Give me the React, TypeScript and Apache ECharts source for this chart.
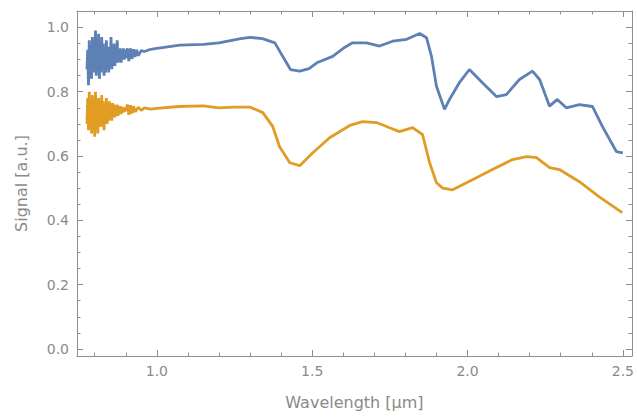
import React, { useEffect, useRef } from "react";
import * as echarts from "echarts";

// ---- data ----
const blueWavelength = [
  0.775, 0.7775, 0.78, 0.7825, 0.785, 0.7875, 0.79, 0.7925, 0.795, 0.7975, 0.8, 0.8025, 0.805, 0.8075,
  0.81, 0.8125, 0.815, 0.8175, 0.82, 0.8225, 0.825, 0.8275, 0.83, 0.8325, 0.835, 0.8375, 0.84, 0.8425,
  0.845, 0.8475, 0.85, 0.8525, 0.855, 0.8575, 0.86, 0.8625, 0.865, 0.8675, 0.87, 0.8725, 0.875, 0.8775,
  0.88, 0.8825, 0.885, 0.8875, 0.89, 0.8925, 0.895, 0.8975, 0.9, 0.905, 0.91, 0.915, 0.92, 0.925, 0.93,
  0.935, 0.94, 0.95, 0.96, 0.98, 1.0, 1.074, 1.15, 1.2, 1.27, 1.3, 1.34, 1.38, 1.405, 1.43, 1.46, 1.49,
  1.515, 1.566, 1.6, 1.63, 1.675, 1.717, 1.759, 1.804, 1.846, 1.868, 1.884, 1.9, 1.926, 1.942, 1.975,
  2.006, 2.048, 2.093, 2.125, 2.167, 2.209, 2.232, 2.264, 2.289, 2.318, 2.36, 2.402, 2.434, 2.479, 2.5,
];
const blueSignal = [
  0.87, 0.93, 0.82, 0.96, 0.85, 0.91, 0.84, 0.97, 0.88, 0.94, 0.86, 0.99, 0.85, 0.95,
  0.87, 0.98, 0.84, 0.93, 0.86, 0.97, 0.87, 0.95, 0.85, 0.92, 0.86, 0.96, 0.87, 0.94,
  0.86, 0.93, 0.88, 0.97, 0.87, 0.93, 0.88, 0.95, 0.88, 0.93, 0.89, 0.96, 0.89, 0.93,
  0.895, 0.935, 0.89, 0.93, 0.9, 0.935, 0.9, 0.93, 0.905, 0.935, 0.895, 0.935, 0.902, 0.932, 0.908,
  0.93, 0.912, 0.928, 0.925, 0.932, 0.935, 0.945, 0.947, 0.952, 0.965, 0.969, 0.965, 0.952, 0.91, 0.869,
  0.864, 0.872, 0.89, 0.91, 0.935, 0.952, 0.952, 0.942, 0.957, 0.963, 0.981, 0.968, 0.91, 0.817, 0.745,
  0.776, 0.83, 0.869, 0.828, 0.785, 0.791, 0.838, 0.864, 0.838, 0.755, 0.776, 0.75, 0.76, 0.754, 0.692,
  0.614, 0.61,
];

const orangeWavelength = [
  0.775, 0.7775, 0.78, 0.7825, 0.785, 0.7875, 0.79, 0.7925, 0.795, 0.7975, 0.8, 0.8025, 0.805, 0.8075,
  0.81, 0.8125, 0.815, 0.8175, 0.82, 0.8225, 0.825, 0.8275, 0.83, 0.8325, 0.835, 0.8375, 0.84, 0.8425,
  0.845, 0.8475, 0.85, 0.8525, 0.855, 0.8575, 0.86, 0.8625, 0.865, 0.8675, 0.87, 0.8725, 0.875, 0.8775,
  0.88, 0.8825, 0.885, 0.8875, 0.89, 0.8925, 0.895, 0.8975, 0.9, 0.905, 0.91, 0.915, 0.92, 0.925, 0.93,
  0.94, 0.95, 0.96, 0.98, 1.0, 1.07, 1.15, 1.2, 1.25, 1.3, 1.341, 1.373, 1.395, 1.428, 1.46, 1.502,
  1.556, 1.621, 1.662, 1.707, 1.749, 1.781, 1.823, 1.855, 1.878, 1.9, 1.92, 1.952, 2.016, 2.08, 2.145,
  2.19, 2.222, 2.264, 2.296, 2.36, 2.424, 2.498,
];
const orangeSignal = [
  0.7, 0.78, 0.68, 0.8, 0.69, 0.75, 0.67, 0.79, 0.71, 0.77, 0.66, 0.8, 0.69, 0.76,
  0.67, 0.78, 0.7, 0.77, 0.69, 0.79, 0.7, 0.77, 0.68, 0.76, 0.71, 0.78, 0.7, 0.76,
  0.71, 0.77, 0.72, 0.76, 0.71, 0.765, 0.72, 0.76, 0.72, 0.755, 0.725, 0.76, 0.725, 0.755,
  0.73, 0.755, 0.73, 0.752, 0.735, 0.752, 0.737, 0.75, 0.74, 0.76, 0.728, 0.758, 0.732, 0.755, 0.737,
  0.752, 0.742, 0.75, 0.746, 0.748, 0.754, 0.756, 0.75, 0.752, 0.752, 0.735, 0.692, 0.629, 0.579, 0.57, 0.61,
  0.657, 0.695, 0.707, 0.704, 0.688, 0.676, 0.688, 0.667, 0.579, 0.517, 0.5, 0.495, 0.526, 0.558, 0.589,
  0.598, 0.595, 0.564, 0.558, 0.52, 0.473, 0.424,
];

const xMajorTicks = [1.0, 1.5, 2.0, 2.5];
const xMinorTicks = [0.8, 0.9, 1.1, 1.2, 1.3, 1.4, 1.6, 1.7, 1.8, 1.9, 2.1, 2.2, 2.3, 2.4];
const yMajorTicks = [0.0, 0.2, 0.4, 0.6, 0.8, 1.0];
const yMinorTicks = [0.05, 0.1, 0.15, 0.25, 0.3, 0.35, 0.45, 0.5, 0.55, 0.65, 0.7, 0.75, 0.85, 0.9, 0.95];

const X_MIN = 0.743;
const X_MAX = 2.529;
const Y_MIN = -0.022;
const Y_MAX = 1.051;

const FRAME = "#8f8f8f";
const LABEL = "#8a8a8a";
const FONT = "DejaVu Sans";

function pairs(xs: number[], ys: number[]) {
  return xs.map((x, i) => [x, ys[i]]);
}

function makeAxis(
  kind: "x" | "y",
  position: string,
  ticks: number[],
  tickLen: number,
  showLine: boolean,
  showLabel: boolean,
  extra: any = {}
) {
  return {
    type: "value",
    position,
    min: kind === "x" ? X_MIN : Y_MIN,
    max: kind === "x" ? X_MAX : Y_MAX,
    axisLine: { show: showLine, onZero: false, lineStyle: { color: FRAME, width: 1 } },
    axisTick: {
      show: true,
      inside: true,
      length: tickLen,
      customValues: ticks,
      lineStyle: { color: FRAME, width: 1 },
    },
    axisLabel: showLabel
      ? {
          show: true,
          customValues: ticks,
          formatter: (v: number) => v.toFixed(1),
          color: LABEL,
          fontFamily: FONT,
          fontSize: 14,
          margin: 8,
        }
      : { show: false },
    splitLine: { show: false },
    ...extra,
  };
}

export default function App() {
  const ref = useRef<HTMLDivElement>(null);

  useEffect(() => {
    if (!ref.current) return;
    const chart = echarts.init(ref.current, null, { renderer: "svg" });
    chart.setOption({
      animation: false,
      backgroundColor: "#ffffff",
      grid: { left: 77, right: 5, top: 11, bottom: 62, containLabel: false },
      xAxis: [
        makeAxis("x", "bottom", xMajorTicks, 6, true, true, {
          name: "Wavelength [μm]",
          nameLocation: "middle",
          nameGap: 38,
          nameTextStyle: { color: LABEL, fontFamily: FONT, fontSize: 16 },
        }),
        makeAxis("x", "bottom", xMinorTicks, 3.5, false, false),
        makeAxis("x", "top", xMajorTicks, 6, true, false),
        makeAxis("x", "top", xMinorTicks, 3.5, false, false),
      ],
      yAxis: [
        makeAxis("y", "left", yMajorTicks, 6, true, true, {
          name: "Signal [a.u.]",
          nameLocation: "middle",
          nameGap: 48,
          nameTextStyle: { color: LABEL, fontFamily: FONT, fontSize: 16 },
        }),
        makeAxis("y", "left", yMinorTicks, 3.5, false, false),
        makeAxis("y", "right", yMajorTicks, 6, true, false),
        makeAxis("y", "right", yMinorTicks, 3.5, false, false),
      ],
      series: [
        {
          type: "line",
          name: "blue",
          xAxisIndex: 0,
          yAxisIndex: 0,
          data: pairs(blueWavelength, blueSignal),
          showSymbol: false,
          lineStyle: { color: "#5E81B5", width: 2.8 },
          itemStyle: { color: "#5E81B5" },
        },
        {
          type: "line",
          name: "orange",
          xAxisIndex: 0,
          yAxisIndex: 0,
          data: pairs(orangeWavelength, orangeSignal),
          showSymbol: false,
          lineStyle: { color: "#E19C24", width: 2.8 },
          itemStyle: { color: "#E19C24" },
        },
      ],
    });
    return () => chart.dispose();
  }, []);

  return (
    <div
      ref={ref}
      style={{ position: "fixed", left: 0, top: 0, width: 637, height: 418, background: "#fff" }}
    />
  );
}
